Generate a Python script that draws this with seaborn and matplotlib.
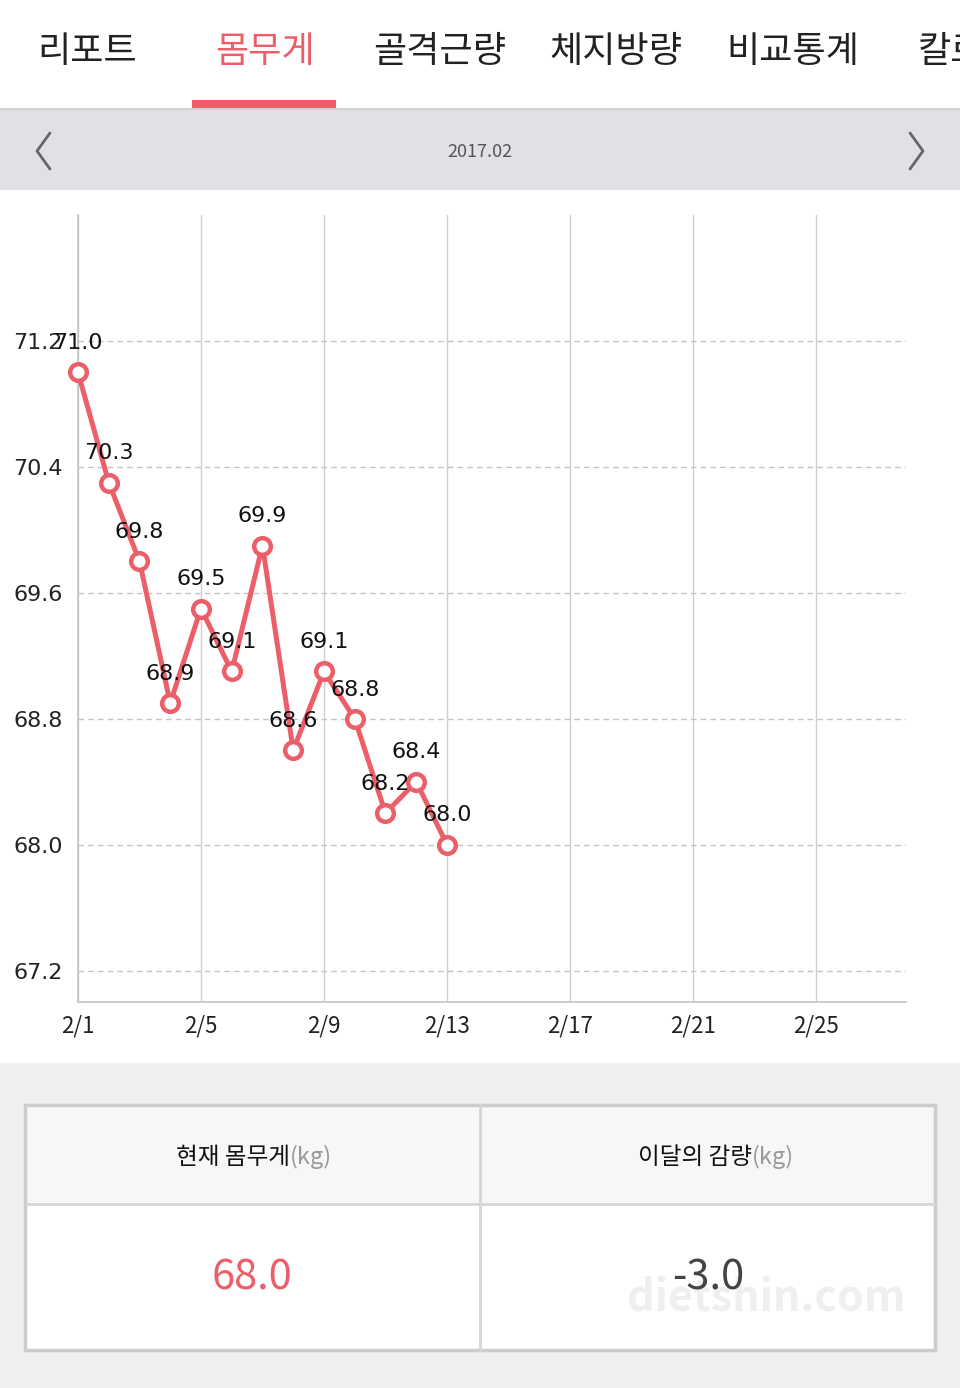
import matplotlib
matplotlib.use("Agg")
import matplotlib.pyplot as plt
from matplotlib.patches import Rectangle
from matplotlib.lines import Line2D
import seaborn as sns

# data
days = list(range(1, 14))
weights = [71.0, 70.3, 69.8, 68.9, 69.5, 69.1, 69.9, 68.6, 69.1, 68.8, 68.2, 68.4, 68.0]
ytick_vals = [67.2, 68.0, 68.8, 69.6, 70.4, 71.2]
xtick_days = [1, 5, 9, 13, 17, 21, 25]
xtick_labels = ["2/1", "2/5", "2/9", "2/13", "2/17", "2/21", "2/25"]
tabs = ["리포트", "몸무게", "골격근량", "체지방량", "비교통계", "칼로리"]
tab_x = [87, 265, 440, 616, 793, 918]
month_label = "2017.02"
current_weight = "68.0"
month_change = "-3.0"

sns.set_theme(style="white")
plt.rcParams["font.family"] = ["Noto Sans CJK KR", "DejaVu Sans"]

RED = "#ec5f69"
W, H = 960, 1388
fig = plt.figure(figsize=(9.6, 13.88), dpi=100, facecolor="white")


def rect(x, y, w, h, **kw):
    fig.add_artist(Rectangle((x / W, 1 - (y + h) / H), w / W, h / H,
                             transform=fig.transFigure, **kw))


def ftext(x, y, s, **kw):
    fig.text(x / W, 1 - y / H, s, **kw)


def fline(xs, ys, **kw):
    fig.add_artist(Line2D([v / W for v in xs], [1 - v / H for v in ys],
                          transform=fig.transFigure, **kw))


# tabs
for i, (t, x) in enumerate(zip(tabs, tab_x)):
    ftext(x, 52, t, fontsize=26, ha="left" if i == 5 else "center", va="center",
          color=RED if i == 1 else "#222222")
rect(0, 109, W, 81, facecolor="#dfe1e4", edgecolor="none")
fline([0, W], [109, 109], color="#cfd1d4", lw=1.5)
rect(192, 100, 144, 9, facecolor=RED, edgecolor="none")
ftext(480, 152, month_label, fontsize=13, ha="center", va="center", color="#555555")
fline([50, 37, 50], [133, 151, 169], color="#666666", lw=2)
fline([910, 923, 910], [133, 151, 169], color="#666666", lw=2)

# lower area and table
rect(0, 1063, W, H - 1063, facecolor="#f0f0f0", edgecolor="none")
rect(25, 1105, 910, 99, facecolor="#f7f7f7", edgecolor="none")
rect(25, 1204, 910, 146, facecolor="white", edgecolor="none")
rect(25, 1105, 910, 245, facecolor="none", edgecolor="#cccccc", lw=2.5)
fline([25, 935], [1204, 1204], color="#d5d5d5", lw=2)
fline([480, 480], [1105, 1350], color="#d5d5d5", lw=2)

ftext(290, 1157, "현재 몸무게", fontsize=17, ha="right", va="center", color="#111111")
ftext(290, 1157, "(kg)", fontsize=17, ha="left", va="center", color="#999999")
ftext(752, 1157, "이달의 감량", fontsize=17, ha="right", va="center", color="#111111")
ftext(752, 1157, "(kg)", fontsize=17, ha="left", va="center", color="#999999")
ftext(766, 1298, "dietshin.com", fontsize=31, ha="center", va="center", color="#efefef",
      fontweight="bold")
ftext(252, 1278, current_weight, fontsize=30, ha="center", va="center", color=RED,
      fontweight="medium")
ftext(708, 1278, month_change, fontsize=30, ha="center", va="center", color="#444444",
      fontweight="medium")

# chart
ax = fig.add_axes([78 / W, 1 - 1002 / H, (906 - 78) / W, (1002 - 215) / H])
ax.set_facecolor("white")
sns.lineplot(x=days, y=weights, ax=ax, color=RED, linewidth=3.6, marker="o",
             markersize=12, markerfacecolor="white", markeredgecolor=RED,
             markeredgewidth=3.2, zorder=5, clip_on=False)
for d, w in zip(days, weights):
    ax.annotate(f"{w:.1f}", (d, w), xytext=(0, 21), textcoords="offset points",
                ha="center", va="center", fontsize=16, color="#111111", zorder=6,
                family="DejaVu Sans")

ax.set_xlim(1, 27.93)
ax.set_ylim(67.0, 72.0)
ax.set_xticks(xtick_days)
ax.set_xticklabels(xtick_labels, fontsize=16, color="#222222")
ax.set_yticks(ytick_vals)
ax.set_yticklabels([f"{v:.1f}" for v in ytick_vals], fontsize=16, color="#222222",
                   family="DejaVu Sans")
ax.tick_params(length=0)
ax.tick_params(axis="y", pad=11)
ax.tick_params(axis="x", pad=9)
ax.yaxis.grid(True, linestyle=(0, (4, 3)), color="#c4c4c4", lw=1)
ax.xaxis.grid(True, linestyle="-", color="#cfcfcf", lw=1)
for side in ["top", "right"]:
    ax.spines[side].set_visible(False)
for side in ["left", "bottom"]:
    ax.spines[side].set_color("#c4c4c4")
    ax.spines[side].set_linewidth(1.2)
ax.set_xlabel("")
ax.set_ylabel("")

fig.savefig("out.png", dpi=100, facecolor="white")
